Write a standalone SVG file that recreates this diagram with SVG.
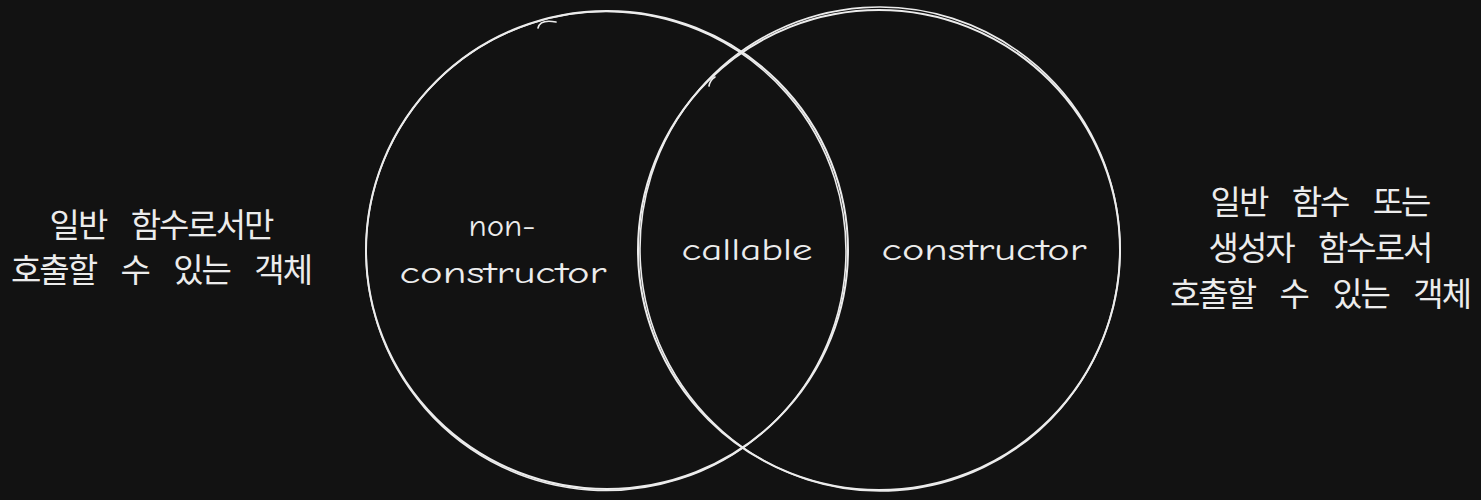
<svg xmlns="http://www.w3.org/2000/svg" width="1481" height="500" viewBox="0 0 1481 500">
<style>
.bg{fill:#121212}
.sk{fill:none;stroke:#ececec;stroke-width:2;stroke-linecap:round}
.sk2{fill:none;stroke:#ececec;stroke-width:1.6;stroke-linecap:round}
.hand{font-family:"Comic Neue","Noto Sans","Liberation Sans",sans-serif;font-size:31px;fill:#ececec;text-anchor:middle}
.ko{font-family:"Noto Sans CJK KR","Noto Sans",sans-serif;font-size:33px;fill:#ececec;text-anchor:middle;letter-spacing:-2px;word-spacing:19px}
</style>
<rect class="bg" x="0" y="0" width="1481" height="500"/>
<g id="left-set">
<ellipse class="sk" cx="607" cy="250" rx="241" ry="239"/>
<ellipse class="sk2" cx="606" cy="251" rx="240" ry="239.5" transform="rotate(4 606 251)"/>
<path class="sk2" d="M538 28 Q540 19 556 22"/>
<text class="hand" x="502" y="236" textLength="67" lengthAdjust="spacingAndGlyphs">non-</text>
<text class="hand" x="503" y="283" textLength="207" lengthAdjust="spacingAndGlyphs">constructor</text>
</g>
<g id="right-set">
<ellipse class="sk" cx="879" cy="250" rx="241" ry="240"/>
<ellipse class="sk2" cx="880" cy="249" rx="240" ry="242" transform="rotate(-4 880 249)"/>
<path class="sk2" d="M709 86 Q710 80 715 77"/>
<text class="hand" x="984" y="260" textLength="205" lengthAdjust="spacingAndGlyphs">constructor</text>
</g>
<g id="intersection">
<text class="hand" x="747" y="260" textLength="131" lengthAdjust="spacingAndGlyphs">callable</text>
</g>
<g id="left-note">
<text class="ko" x="161" y="237">일반 함수로서만</text>
<text class="ko" x="161" y="282">호출할 수 있는 객체</text>
</g>
<g id="right-note">
<text class="ko" x="1320" y="214">일반 함수 또는</text>
<text class="ko" x="1320" y="260">생성자 함수로서</text>
<text class="ko" x="1320" y="306">호출할 수 있는 객체</text>
</g>
<g id="connectors"/>
</svg>
